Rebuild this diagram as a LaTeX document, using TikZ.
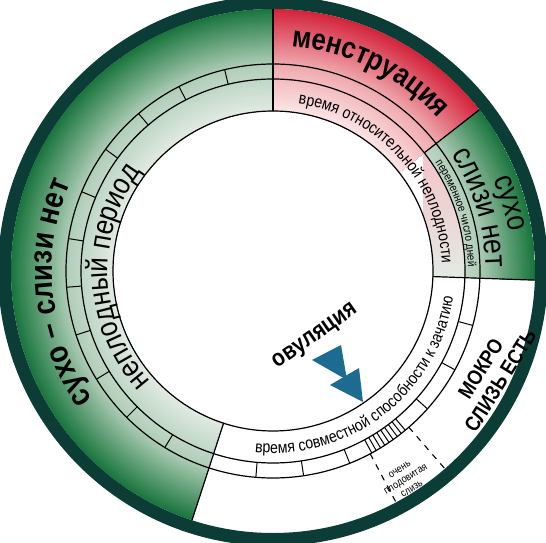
\documentclass[tikz,border=0pt]{standalone}
\usepackage{fontspec}
\setmainfont{Liberation Sans}
\newfontfamily\narrowsf{Liberation Sans}[FakeStretch=0.86]
\usetikzlibrary{decorations.text}

\definecolor{ringdark}{RGB}{11,61,54}
\definecolor{grDark}{RGB}{27,118,62}
\definecolor{grPale}{RGB}{176,206,184}
\definecolor{grWhite}{RGB}{226,235,228}
\definecolor{rdDark}{RGB}{212,36,60}
\definecolor{rdPale}{RGB}{240,170,175}
\definecolor{rdWhite}{RGB}{251,230,230}
\definecolor{ovblue}{RGB}{28,108,146}

% radial colour fill of the current clip: outer band, then inner bands
\newcommand{\ringfill}[3]{%
  \foreach \r in {262,260,...,208}{%
    \pgfmathsetmacro\t{(\r-207)*100/55}%
    \fill[#1!\t!#2] (0,0) circle (\r);}
  \foreach \r in {207,205,...,161}{%
    \pgfmathsetmacro\t{(\r-160)*100/47}%
    \fill[#2!\t!#3] (0,0) circle (\r);}}

\begin{document}
\begin{tikzpicture}[x=1pt, y=1pt,
  sepline/.style={line width=1.2pt},
  daytick/.style={line width=1pt},
  dashline/.style={line width=1.1pt, dash pattern=on 6pt off 6pt},
  curvetext/.style={decorate, decoration={text along path, text align=center, text={#1}}}
]
\useasboundingbox (-273,-272) rectangle (273,271);

% left green period
\begin{scope}
  \clip (90:262) arc[start angle=90, end angle=252, radius=262] -- (252:160)
    arc[start angle=252, end angle=90, radius=160] -- cycle;
  \ringfill{grDark}{grPale}{grWhite}
\end{scope}
% menstruation
\begin{scope}
  \clip (38:262) arc[start angle=38, end angle=90, radius=262] -- (90:160)
    arc[start angle=90, end angle=38, radius=160] -- cycle;
  \ringfill{rdDark}{rdPale}{rdWhite}
\end{scope}
% right green period
\begin{scope}
  \clip (-2:262) arc[start angle=-2, end angle=38, radius=262] -- (38:192)
    arc[start angle=38, end angle=-2, radius=192] -- cycle;
  \ringfill{grDark}{grPale}{grWhite}
\end{scope}
\begin{scope}
  \clip (38:192) arc[start angle=38, end angle=-2, radius=192] -- (-2:160)
    arc[start angle=-2, end angle=38, radius=160] -- cycle;
  \shade[top color=rdPale!70!white, bottom color=grWhite] (150,-10) rectangle (195,118);
\end{scope}

% rings and dividers
\draw[sepline] (0,0) circle (160) circle (192) circle (207);
\foreach \a in {90,252,-2}
  \draw[sepline] (\a:160) -- (\a:262);
\draw[sepline] (38:192) -- (38:262);
\foreach \k in {1,...,11}
  \draw[daytick] ({90+13.5*\k}:192) -- ({90+13.5*\k}:207);
\foreach \k in {1,2,3,5,6,7}
  \draw[daytick] ({252+13.25*\k}:192) -- ({252+13.25*\k}:207);
\foreach \a in {298.5,299.9,...,311}
  \draw[daytick] (\a:192) -- (\a:207);
\draw[dashline] (298:207) -- (298:262);
\draw[dashline] (311:207) -- (311:262);
\draw[ringdark, line width=13pt] (0,0) circle (268.5);

% curved labels
\path[curvetext={|\narrowsf\bfseries\fontsize{30}{30}\selectfont|менструация}]
  (105:225) arc[start angle=105, end angle=23, radius=225];
\path[curvetext={|\narrowsf\fontsize{16.5}{16.5}\selectfont|время относительной неплодности}]
  (100:169) arc[start angle=100, end angle=-16, radius=169];
\path[curvetext={|\narrowsf\fontsize{11.5}{11.5}\selectfont|переменное число дней}]
  (50:195) arc[start angle=50, end angle=-15, radius=195];
\path[curvetext={|\narrowsf\fontsize{31}{31}\selectfont|сухо}]
  (48:239) arc[start angle=48, end angle=-16, radius=239];
\path[curvetext={|\narrowsf\fontsize{31}{31}\selectfont|слизи нет}]
  (50:213) arc[start angle=50, end angle=-16, radius=213];
\path[curvetext={|\narrowsf\bfseries\fontsize{32}{32}\selectfont|сухо – слизи нет}]
  (250:221) arc[start angle=250, end angle=122, radius=221];
\path[curvetext={|\narrowsf\fontsize{30}{30}\selectfont|неплодный период}]
  (256:165) arc[start angle=256, end angle=109, radius=165];
\path[curvetext={|\narrowsf\fontsize{16.5}{16.5}\selectfont|время совместной способности к зачатию}]
  (245:182) arc[start angle=245, end angle=371, radius=182];

% straight labels
\node[font=\narrowsf\bfseries\fontsize{21}{23}\selectfont, rotate=58, align=center]
  (mokro) at (-25.5:241) {МОКРО\\СЛИЗЬ ЕСТЬ};
\node[font=\narrowsf\fontsize{10.5}{11.5}\selectfont, rotate=32, align=center]
  (fertile) at (-57.5:247) {очень\\плодовитая\\слизь};
\node[font=\narrowsf\bfseries\fontsize{24}{24}\selectfont, rotate=35]
  (ovul) at (43,-66) {овуляция};

% ovulation arrow
\fill[ovblue] (39,-89) -- (68,-74) -- (74,-109) -- cycle;
\fill[ovblue] (57,-114) -- (86,-97) -- (90,-131) -- cycle;
\end{tikzpicture}
\end{document}
